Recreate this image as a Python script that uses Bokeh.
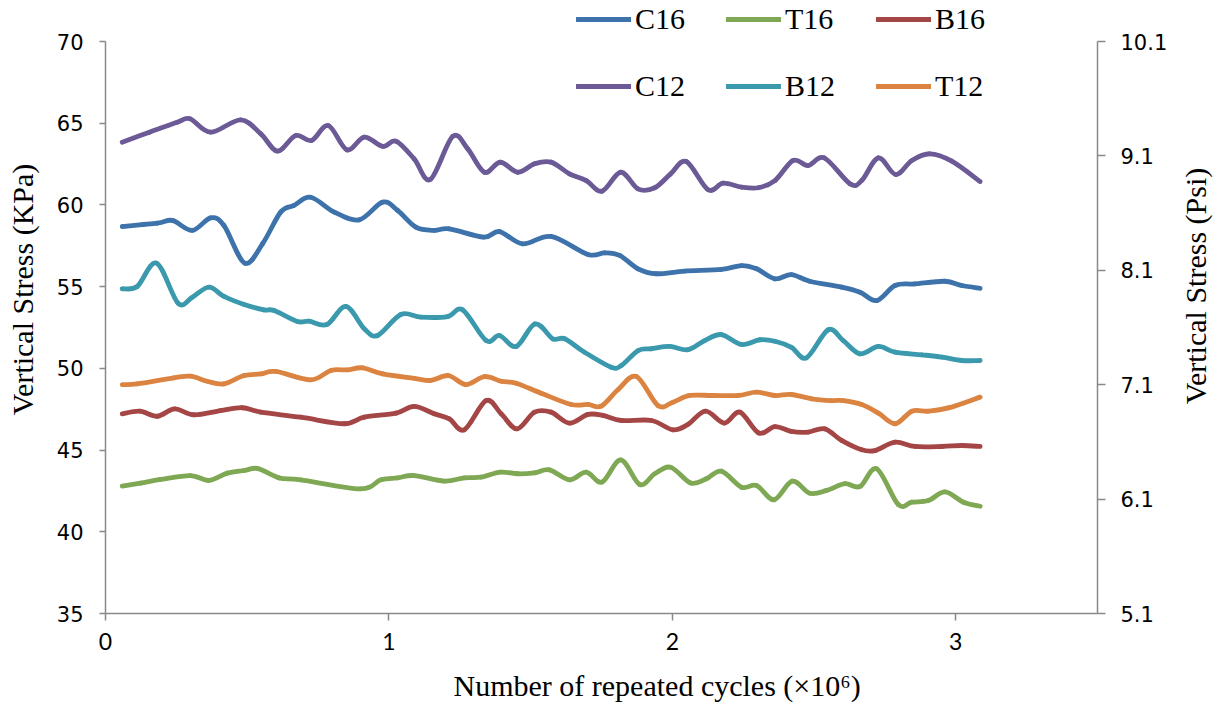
import math
from bokeh.plotting import figure
from bokeh.layouts import row
from bokeh.models import Range1d, LinearAxis, FixedTicker, Legend, LegendItem, Title
from bokeh.core.properties import value
from bokeh.embed import file_html
from bokeh.resources import INLINE

# ---------------- data ----------------
c12_x = [0.059, 0.155, 0.253, 0.298, 0.371, 0.477, 0.548, 0.607, 0.671, 0.727, 0.786, 0.852, 0.913, 0.978,
         1.025, 1.089, 1.146, 1.225, 1.278, 1.337, 1.393, 1.455, 1.514, 1.572, 1.637, 1.696, 1.752, 1.818,
         1.879, 1.938, 1.994, 2.049, 2.126, 2.179, 2.244, 2.303, 2.362, 2.426, 2.479, 2.536, 2.627, 2.668,
         2.727, 2.788, 2.845, 2.909, 2.986, 3.086]
c12_y = [63.84, 64.45, 65.06, 65.27, 64.45, 65.21, 64.35, 63.29, 64.25, 63.94, 64.86, 63.37, 64.15, 63.58,
         63.90, 62.82, 61.56, 64.19, 63.43, 62.00, 62.61, 62.00, 62.52, 62.62, 61.90, 61.49, 60.84, 62.00,
         60.98, 61.05, 61.90, 62.66, 60.93, 61.33, 61.09, 61.05, 61.49, 62.72, 62.41, 62.88, 61.29, 61.49,
         62.88, 61.86, 62.72, 63.13, 62.68, 61.43]

c16_x = [0.059, 0.183, 0.236, 0.306, 0.371, 0.418, 0.491, 0.554, 0.618, 0.665, 0.724, 0.807, 0.895, 0.978,
         1.031, 1.095, 1.160, 1.213, 1.334, 1.390, 1.472, 1.572, 1.702, 1.761, 1.814, 1.879, 1.943, 2.043,
         2.173, 2.244, 2.297, 2.362, 2.420, 2.485, 2.597, 2.662, 2.721, 2.786, 2.856, 2.962, 3.021, 3.086]
c16_y = [58.68, 58.88, 59.05, 58.44, 59.21, 58.74, 56.44, 57.62, 59.56, 59.97, 60.47, 59.56, 59.09, 60.17,
         59.66, 58.64, 58.44, 58.54, 58.03, 58.37, 57.62, 58.07, 56.97, 57.07, 56.91, 56.09, 55.79, 55.95,
         56.05, 56.29, 56.09, 55.48, 55.74, 55.33, 54.97, 54.66, 54.15, 55.07, 55.17, 55.33, 55.07, 54.90]

b12_x = [0.059, 0.112, 0.180, 0.256, 0.306, 0.365, 0.418, 0.489, 0.559, 0.595, 0.677, 0.718, 0.781, 0.848,
         0.913, 0.960, 1.042, 1.113, 1.207, 1.260, 1.343, 1.390, 1.449, 1.516, 1.578, 1.620, 1.690, 1.784,
         1.820, 1.879, 1.926, 1.991, 2.055, 2.114, 2.173, 2.244, 2.309, 2.362, 2.420, 2.473, 2.550, 2.603,
         2.662, 2.727, 2.786, 2.880, 2.951, 3.021, 3.086]
b12_y = [54.87, 55.01, 56.44, 53.99, 54.35, 54.97, 54.40, 53.91, 53.58, 53.54, 52.87, 52.89, 52.68, 53.79,
         52.42, 52.01, 53.30, 53.13, 53.17, 53.58, 51.70, 52.01, 51.34, 52.72, 51.81, 51.81, 50.99, 50.07,
         50.17, 51.09, 51.20, 51.34, 51.14, 51.70, 52.07, 51.46, 51.75, 51.66, 51.29, 50.64, 52.36, 51.70,
         50.89, 51.34, 50.99, 50.83, 50.69, 50.48, 50.48]

t12_x = [0.059, 0.112, 0.241, 0.300, 0.359, 0.418, 0.489, 0.548, 0.601, 0.724, 0.795, 0.854, 0.907, 0.978,
         1.089, 1.148, 1.210, 1.272, 1.337, 1.396, 1.449, 1.537, 1.643, 1.702, 1.749, 1.808, 1.873, 1.949,
         2.002, 2.061, 2.140, 2.232, 2.297, 2.362, 2.420, 2.491, 2.562, 2.603, 2.668, 2.727, 2.786, 2.845,
         2.903, 2.974, 3.086]
t12_y = [49.01, 49.05, 49.42, 49.52, 49.21, 49.05, 49.56, 49.66, 49.81, 49.30, 49.87, 49.91, 50.03, 49.66,
         49.39, 49.26, 49.56, 49.01, 49.50, 49.21, 49.09, 48.48, 47.79, 47.79, 47.69, 48.69, 49.50, 47.73,
         47.93, 48.34, 48.34, 48.34, 48.54, 48.34, 48.40, 48.14, 48.03, 48.03, 47.79, 47.26, 46.61, 47.38,
         47.38, 47.58, 48.24]

b16_x = [0.059, 0.121, 0.183, 0.244, 0.312, 0.406, 0.483, 0.548, 0.689, 0.842, 0.913, 1.025, 1.089, 1.160,
         1.213, 1.266, 1.343, 1.396, 1.452, 1.514, 1.572, 1.637, 1.702, 1.755, 1.820, 1.926, 2.002, 2.055,
         2.117, 2.183, 2.238, 2.305, 2.362, 2.420, 2.479, 2.538, 2.597, 2.668, 2.715, 2.786, 2.856, 2.951,
         3.021, 3.086]
b16_y = [47.22, 47.38, 47.07, 47.52, 47.16, 47.42, 47.59, 47.32, 47.01, 46.61, 47.01, 47.26, 47.67, 47.22,
         46.91, 46.24, 48.03, 47.22, 46.30, 47.32, 47.32, 46.65, 47.18, 47.12, 46.81, 46.81, 46.24, 46.57,
         47.38, 46.65, 47.32, 46.04, 46.44, 46.14, 46.10, 46.30, 45.59, 45.02, 44.97, 45.48, 45.22, 45.22,
         45.28, 45.22]

t16_x = [0.059, 0.124, 0.194, 0.300, 0.365, 0.430, 0.489, 0.538, 0.612, 0.689, 0.899, 0.972, 1.031, 1.089,
         1.195, 1.266, 1.325, 1.393, 1.455, 1.514, 1.566, 1.637, 1.696, 1.752, 1.818, 1.885, 1.938, 1.994,
         2.065, 2.120, 2.173, 2.244, 2.297, 2.359, 2.423, 2.485, 2.544, 2.609, 2.662, 2.721, 2.797, 2.845,
         2.903, 2.962, 3.027, 3.086]
t16_y = [42.79, 42.98, 43.20, 43.44, 43.14, 43.59, 43.75, 43.87, 43.30, 43.18, 42.63, 43.18, 43.30, 43.44,
         43.10, 43.30, 43.34, 43.65, 43.55, 43.61, 43.79, 43.18, 43.65, 43.04, 44.40, 42.89, 43.55, 43.95,
         42.98, 43.24, 43.71, 42.73, 42.83, 41.96, 43.10, 42.36, 42.53, 42.94, 42.77, 43.85, 41.67, 41.81,
         41.91, 42.44, 41.81, 41.56]

left_ticks = [35, 40, 45, 50, 55, 60, 65, 70]
right_ticks = [5.1, 6.1, 7.1, 8.1, 9.1, 10.1]
x_ticks = [0, 1, 2, 3]

series = [
    ("C16", c16_x, c16_y, "#3D72AB"),
    ("T16", t16_x, t16_y, "#7EA853"),
    ("B16", b16_x, b16_y, "#A54646"),
    ("C12", c12_x, c12_y, "#6B5A96"),
    ("B12", b12_x, b12_y, "#3B99AD"),
    ("T12", t12_x, t12_y, "#DB8340"),
]


def smooth_segments(xs, ys):
    """Bezier control points for a smoothed line through the data points (Catmull-Rom style)."""
    n = len(xs)
    out = dict(x0=[], y0=[], x1=[], y1=[], cx0=[], cy0=[], cx1=[], cy1=[])
    for i in range(n - 1):
        xa, ya = (xs[i - 1], ys[i - 1]) if i > 0 else (xs[i], ys[i])
        xd, yd = (xs[i + 2], ys[i + 2]) if i + 2 < n else (xs[i + 1], ys[i + 1])
        out["x0"].append(xs[i]); out["y0"].append(ys[i])
        out["x1"].append(xs[i + 1]); out["y1"].append(ys[i + 1])
        out["cx0"].append(xs[i] + (xs[i + 1] - xa) / 6.0)
        out["cy0"].append(ys[i] + (ys[i + 1] - ya) / 6.0)
        out["cx1"].append(xs[i + 1] - (xd - xs[i]) / 6.0)
        out["cy1"].append(ys[i + 1] - (yd - ys[i]) / 6.0)
    return out


# The plot frame reaches above the 70 kPa line so that the top legend row fits inside it;
# the axis lines themselves stop at 70 kPa / 10.1 psi (axis bounds).
AXIS_PX = 572.0      # pixel length of the 35..70 axis
EXTRA_PX = 41.0      # frame space above the top tick
kpa_lo, kpa_hi = 35, 70
psi_lo, psi_hi = 5.1, 10.1
kpa_top = kpa_hi + EXTRA_PX * (kpa_hi - kpa_lo) / AXIS_PX
psi_top = psi_hi + EXTRA_PX * (psi_hi - psi_lo) / AXIS_PX

TOTAL_H = 710
LEFT_W = 40          # strip holding the left axis title
FRAME_LEFT = 105
FRAME_W = 992
MAIN_RIGHT = 75      # room for the right axis ticks/labels
MAIN_W = FRAME_LEFT - LEFT_W + FRAME_W + MAIN_RIGHT
RIGHT_W = 1219 - LEFT_W - MAIN_W

AX_COL = "#898989"
TICK_FONT = "DejaVu Sans"
SERIF = "Liberation Serif"

p = figure(frame_width=FRAME_W, frame_height=int(AXIS_PX + EXTRA_PX),
           x_range=Range1d(0, 3.5), y_range=Range1d(kpa_lo, kpa_top),
           output_backend="svg", toolbar_location=None,
           min_border_left=FRAME_LEFT - LEFT_W, min_border_right=MAIN_RIGHT, min_border_top=0,
           min_border_bottom=TOTAL_H - int(AXIS_PX + EXTRA_PX))
p.xgrid.visible = False
p.ygrid.visible = False
p.outline_line_color = None
p.background_fill_color = "white"
p.border_fill_color = "white"

# left axis
ya = p.yaxis[0]
ya.bounds = (kpa_lo, kpa_hi)
ya.ticker = FixedTicker(ticks=left_ticks)
ya.axis_line_color = AX_COL
ya.axis_line_width = 1.5
ya.major_tick_line_color = AX_COL
ya.major_tick_line_width = 1.5
ya.major_tick_in = 0
ya.major_tick_out = 6
ya.minor_tick_line_color = None
ya.major_label_text_font = TICK_FONT
ya.major_label_text_font_size = "21px"
ya.major_label_text_color = "black"
ya.major_label_standoff = 16

# bottom axis
xa = p.xaxis[0]
xa.ticker = FixedTicker(ticks=x_ticks)
xa.axis_line_color = AX_COL
xa.axis_line_width = 1.5
xa.major_tick_line_color = AX_COL
xa.major_tick_line_width = 1.5
xa.major_tick_in = 0
xa.major_tick_out = 7
xa.minor_tick_line_color = None
xa.major_label_text_font = "Lato"
xa.major_label_text_font_size = "23px"
xa.major_label_text_color = "black"
xa.major_label_standoff = 12

# right axis (its title is drawn in the narrow right strip)
p.extra_y_ranges = {"psi": Range1d(psi_lo, psi_top)}
ra = LinearAxis(y_range_name="psi", ticker=FixedTicker(ticks=right_ticks))
ra.bounds = (psi_lo, psi_hi)
ra.axis_line_color = AX_COL
ra.axis_line_width = 1.5
ra.major_tick_line_color = AX_COL
ra.major_tick_line_width = 1.5
ra.major_tick_in = 0
ra.major_tick_out = 8
ra.minor_tick_line_color = None
ra.major_label_text_font = TICK_FONT
ra.major_label_text_font_size = "21px"
ra.major_label_text_color = "black"
ra.major_label_standoff = 15
p.add_layout(ra, "right")

# x-axis title (offset to the right as in the reference)
xt = Title(text="Number of repeated cycles (×10⁶)", align="left", offset=348,
           text_font=SERIF, text_font_size="30px", text_font_style="normal",
           text_color="black", standoff=29)
p.add_layout(xt, "below")

renderers = {}
for name, xs, ys, col in series:
    seg = smooth_segments(xs, ys)
    r = p.bezier(x0="x0", y0="y0", x1="x1", y1="y1", cx0="cx0", cy0="cy0", cx1="cx1", cy1="cy1",
                 source=seg, line_color=col, line_width=4.8, line_cap="round")
    renderers[name] = r

legend_common = dict(orientation="horizontal", padding=0, margin=0, spacing=5,
                     glyph_width=55, glyph_height=28, label_width=86, label_height=28,
                     label_standoff=4, label_text_font=SERIF, label_text_font_size="30px",
                     label_text_color="black", border_line_color=None,
                     background_fill_alpha=0)
leg1 = Legend(items=[LegendItem(label=n, renderers=[renderers[n]], index=0) for n in ["C16", "T16", "B16"]],
              location=(471, 577), **legend_common)
leg2 = Legend(items=[LegendItem(label=n, renderers=[renderers[n]], index=0) for n in ["C12", "B12", "T12"]],
              location=(471, 510), **legend_common)
p.add_layout(leg1)
p.add_layout(leg2)


def title_strip(width, text, x, y):
    """Narrow strip with a vertical axis title (reads bottom to top)."""
    s = figure(width=width, height=TOTAL_H, x_range=Range1d(0, width), y_range=Range1d(0, TOTAL_H),
               output_backend="svg", toolbar_location=None,
               min_border_left=0, min_border_right=0, min_border_top=0, min_border_bottom=0)
    s.axis.visible = False
    s.xgrid.visible = False
    s.ygrid.visible = False
    s.outline_line_color = None
    s.background_fill_color = "white"
    s.border_fill_color = "white"
    s.text(x=[x], y=[y], text=[text], angle=math.pi / 2,
           text_align="center", text_baseline="middle", text_font=value(SERIF),
           text_font_size="30px", text_color="black")
    return s


left_strip = title_strip(LEFT_W, "Vertical Stress (KPa)", 22, TOTAL_H - 338)
right_strip = title_strip(RIGHT_W, "Vertical Stress (Psi)", 1195 - (LEFT_W + MAIN_W), TOTAL_H - 334)

layout = row(left_strip, p, right_strip, spacing=0)
open("out.html", "w").write(file_html(layout, INLINE))
